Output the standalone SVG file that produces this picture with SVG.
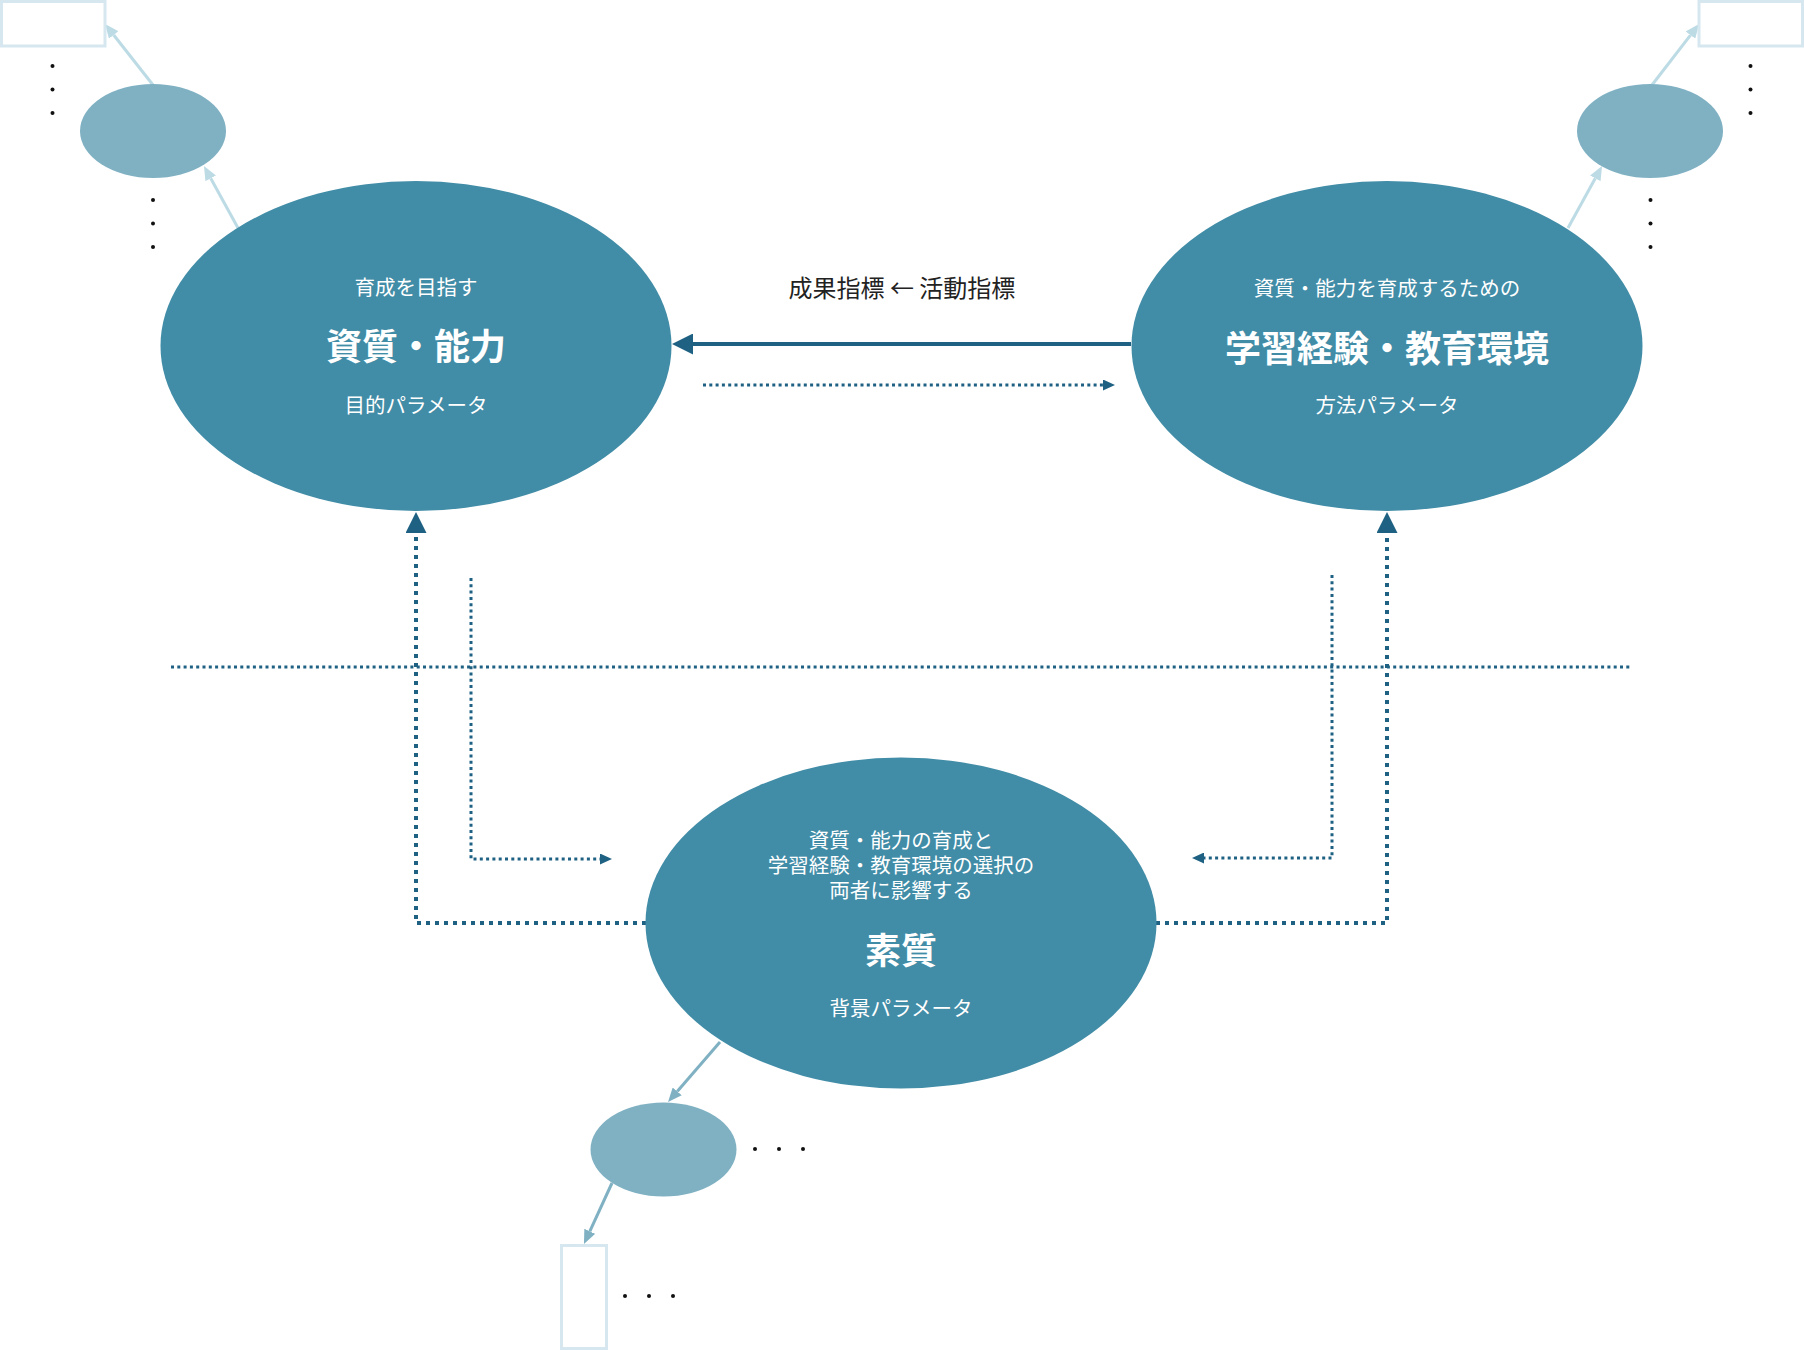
<svg xmlns="http://www.w3.org/2000/svg" width="1804" height="1350" viewBox="0 0 1804 1350">
<style>
.big{fill:#418ca6;}
.small{fill:#7fb1c3;}
.box{fill:#ffffff;stroke:#d6e7ef;stroke-width:3;}
.t{font-family:"Noto Sans CJK JP","Noto Sans",sans-serif;fill:#ffffff;text-anchor:middle;dominant-baseline:central;}
.s{font-size:20.5px;}
.b{font-size:36px;font-weight:bold;}
.lbl{font-family:"Noto Sans CJK JP","Noto Sans",sans-serif;fill:#222222;font-size:24px;text-anchor:middle;dominant-baseline:central;}
.solid{stroke:#1e6183;stroke-width:4;fill:none;}
.thick{stroke:#1e6183;stroke-width:4;stroke-dasharray:4 5;fill:none;}
.thin{stroke:#1e6183;stroke-width:3;stroke-dasharray:3 3.3;fill:none;}
.la{stroke:#bcdbe5;stroke-width:3;fill:none;}
.ma{stroke:#7fb1c3;stroke-width:3;fill:none;}
.dot{fill:#111111;}
</style>
<defs>
<marker id="hBig" markerUnits="userSpaceOnUse" markerWidth="21" markerHeight="21" refX="0" refY="10.5" orient="auto"><path d="M0,0 L21,10.5 L0,21 z" fill="#1e6183"/></marker>
<marker id="hSmall" markerUnits="userSpaceOnUse" markerWidth="12" markerHeight="11" refX="0" refY="5.5" orient="auto"><path d="M0,0 L12,5.5 L0,11 z" fill="#1e6183"/></marker>
<marker id="hLight" markerUnits="userSpaceOnUse" markerWidth="14" markerHeight="12" refX="0" refY="6" orient="auto"><path d="M0,0 L14,6 L0,12 z" fill="#bcdbe5"/></marker>
<marker id="hMid" markerUnits="userSpaceOnUse" markerWidth="14" markerHeight="12" refX="0" refY="6" orient="auto"><path d="M0,0 L14,6 L0,12 z" fill="#7fb1c3"/></marker>
</defs>

<g id="connectors">
<path class="thin" d="M171,667 L1630,667"/>
<path class="solid" d="M1131,344 L693,344" marker-end="url(#hBig)"/>
<path class="thin" d="M703,385 L1103,385" marker-end="url(#hSmall)"/>
<path class="thick" d="M646,923 L416,923 L416,533" marker-end="url(#hBig)"/>
<path class="thick" d="M1156,923 L1387,923 L1387,533" marker-end="url(#hBig)"/>
<path class="thin" d="M471,578 L471,859 L600,859" marker-end="url(#hSmall)"/>
<path class="thin" d="M1332,575 L1332,858 L1204,858" marker-end="url(#hSmall)"/>
<path class="la" d="M238,228 L210.7,178.3" marker-end="url(#hLight)"/>
<path class="la" d="M153,85 L113.7,35" marker-end="url(#hLight)"/>
<path class="la" d="M1568,228 L1595.3,178.3" marker-end="url(#hLight)"/>
<path class="la" d="M1652,85 L1690.5,35.1" marker-end="url(#hLight)"/>
<path class="ma" d="M720,1042 L677.2,1091.4" marker-end="url(#hMid)"/>
<path class="ma" d="M612,1183 L589.8,1231.3" marker-end="url(#hMid)"/>
</g>

<g id="label-indicators">
<text class="lbl" x="902" y="286">成果指標 ← 活動指標</text>
</g>

<g id="node-shishitsu-noryoku">
<ellipse class="big" cx="416" cy="346" rx="255.5" ry="165"/>
<text class="t s" x="416" y="286">育成を目指す</text>
<text class="t b" x="416" y="344">資質・能力</text>
<text class="t s" x="416" y="404">目的パラメータ</text>
</g>

<g id="node-gakushu-keiken">
<ellipse class="big" cx="1387" cy="346" rx="255.5" ry="165"/>
<text class="t s" x="1387" y="287">資質・能力を育成するための</text>
<text class="t b" x="1387" y="346">学習経験・教育環境</text>
<text class="t s" x="1387" y="404">方法パラメータ</text>
</g>

<g id="node-soshitsu">
<ellipse class="big" cx="901" cy="923" rx="255.5" ry="165.5"/>
<text class="t s" x="901" y="839"><tspan x="901" y="839">資質・能力の育成と</tspan><tspan x="901" y="864">学習経験・教育環境の選択の</tspan><tspan x="901" y="889">両者に影響する</tspan></text>
<text class="t b" x="901" y="948">素質</text>
<text class="t s" x="901" y="1007">背景パラメータ</text>
</g>

<g id="node-tl-ellipse"><ellipse class="small" cx="153" cy="131" rx="73" ry="47"/></g>
<g id="node-tl-box"><rect class="box" x="1.5" y="1.5" width="103.5" height="44.5"/></g>
<g id="node-tr-ellipse"><ellipse class="small" cx="1650" cy="131" rx="73" ry="47"/></g>
<g id="node-tr-box"><rect class="box" x="1699" y="1.5" width="103.5" height="44.5"/></g>
<g id="node-b-ellipse"><ellipse class="small" cx="663.5" cy="1149.5" rx="73" ry="47"/></g>
<g id="node-b-box"><rect class="box" x="561.5" y="1245.5" width="45" height="103"/></g>

<g id="ellipsis-dots">
<circle class="dot" cx="52.5" cy="66" r="2"/><circle class="dot" cx="52.5" cy="89.5" r="2"/><circle class="dot" cx="52.5" cy="113" r="2"/>
<circle class="dot" cx="153" cy="200" r="2"/><circle class="dot" cx="153" cy="223.5" r="2"/><circle class="dot" cx="153" cy="247" r="2"/>
<circle class="dot" cx="1750.5" cy="66" r="2"/><circle class="dot" cx="1750.5" cy="89.5" r="2"/><circle class="dot" cx="1750.5" cy="113" r="2"/>
<circle class="dot" cx="1650.5" cy="200" r="2"/><circle class="dot" cx="1650.5" cy="223.5" r="2"/><circle class="dot" cx="1650.5" cy="247" r="2"/>
<circle class="dot" cx="755" cy="1149" r="2"/><circle class="dot" cx="779" cy="1149" r="2"/><circle class="dot" cx="803" cy="1149" r="2"/>
<circle class="dot" cx="625" cy="1296" r="2"/><circle class="dot" cx="649" cy="1296" r="2"/><circle class="dot" cx="673" cy="1296" r="2"/>
</g>
</svg>
